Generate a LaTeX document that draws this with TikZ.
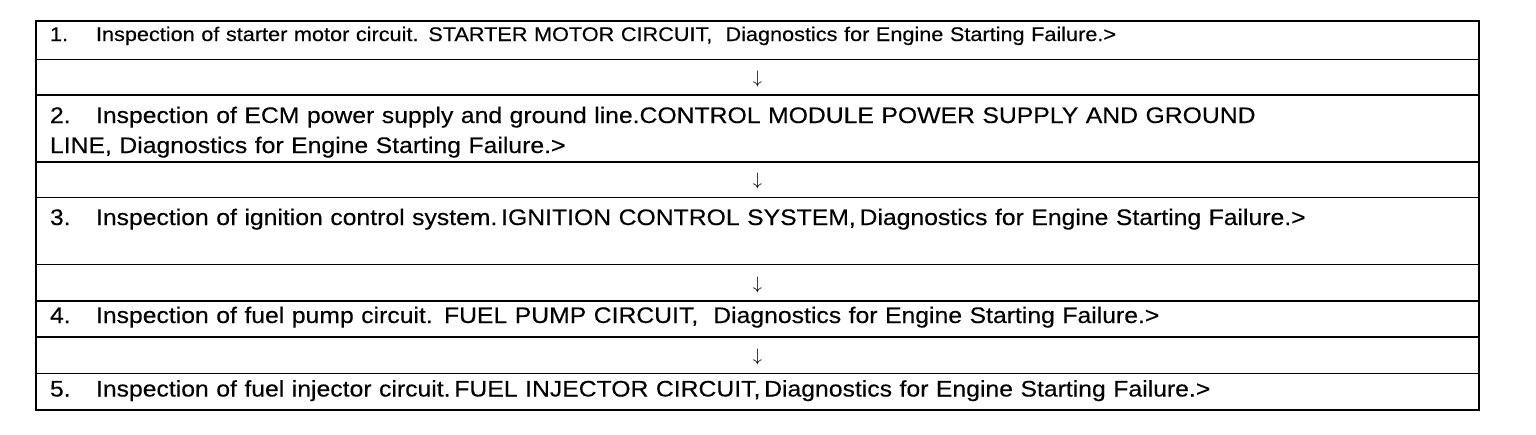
\documentclass[tikz,border=0pt]{standalone}
\usepackage{fontspec}
\setmainfont{Liberation Sans}[FakeStretch=1.1, FakeBold=0.3]
\usepackage{tikz}
\usetikzlibrary{positioning}

\newcommand{\stepnum}[1]{\makebox[23pt][l]{#1}}

\begin{document}
\begin{tikzpicture}[x=0.5pt, y=-0.5pt, node distance=0pt,
  stepbox/.style={draw, line width=0.9pt, outer sep=0pt, inner xsep=7pt, inner ysep=0pt,
    text width=707.5pt, align=left, font=\fontsize{11.25}{15}\selectfont},
  arrowbox/.style={stepbox, align=center, text height=#1, text depth=5.85pt,
    font=\fontsize{9.5}{10}\selectfont},
  frame/.style={draw, line width=1.4pt}]
\useasboundingbox (0,0) rectangle (1536,434);

\node[stepbox, anchor=north west, text height=10pt, text depth=9.25pt,
  font=\fontsize{9.85}{15}\selectfont] (step1) at (36,21)
  {\stepnum{1.}Inspection of starter motor circuit. STARTER MOTOR CIRCUIT,\ \ Diagnostics for Engine Starting Failure.>};
\node[arrowbox=11.9pt, below=of step1] (arr1) {$\downarrow$};
\node[stepbox, below=of arr1, text height=14pt, text depth=19.5pt] (step2)
  {\stepnum{2.}Inspection of ECM power supply and ground line.CONTROL MODULE POWER SUPPLY AND GROUND\\
   LINE, Diagnostics for Engine Starting Failure.>};
\node[arrowbox=11.9pt, below=of step2] (arr2) {$\downarrow$};
\node[stepbox, below=of arr2, text height=13.75pt, text depth=19.75pt] (step3)
  {\stepnum{3.}Inspection of ignition control system.\,IGNITION CONTROL SYSTEM,\,Diagnostics for Engine Starting Failure.>};
\node[arrowbox=12.4pt, below=of step3] (arr3) {$\downarrow$};
\node[stepbox, below=of arr3, text height=11pt, text depth=7pt] (step4)
  {\stepnum{4.}Inspection of fuel pump circuit. FUEL PUMP CIRCUIT,\ \ Diagnostics for Engine Starting Failure.>};
\node[arrowbox=12.4pt, below=of step4] (arr4) {$\downarrow$};
\node[stepbox, below=of arr4, text height=11.5pt, text depth=6.75pt] (step5)
  {\stepnum{5.}Inspection of fuel injector circuit.\,FUEL INJECTOR CIRCUIT,\,Diagnostics for Engine Starting Failure.>};

% heavier outer border
\draw[frame] (step1.north west) rectangle (step5.south east);
\end{tikzpicture}
\end{document}
